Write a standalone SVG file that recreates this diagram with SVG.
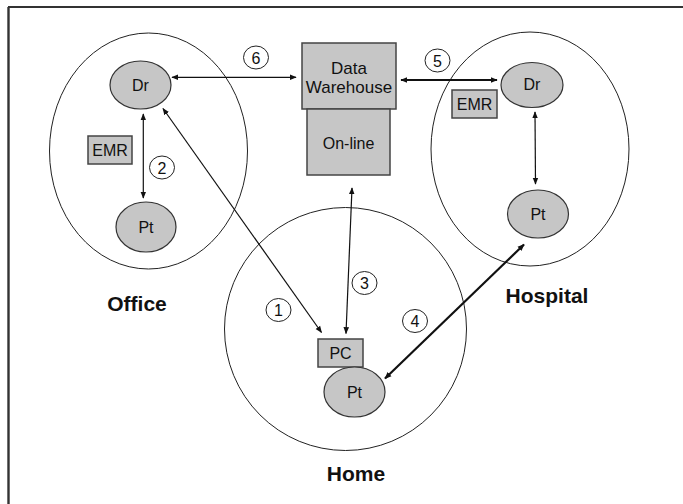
<svg xmlns="http://www.w3.org/2000/svg" width="683" height="504" viewBox="0 0 683 504">
<defs>
<style>
.frame{stroke:#333;fill:none}
.zone{fill:none;stroke:#222;stroke-width:1}
.node{fill:#c6c6c6;stroke:#333;stroke-width:1.2}
.box{fill:#c6c6c6;stroke:#444;stroke-width:1.5}
.t{font-family:"Liberation Sans",Arial,sans-serif;fill:#111;text-anchor:middle;dominant-baseline:central}
.lbl{font-family:"Liberation Sans",Arial,sans-serif;font-weight:bold;font-size:21px;fill:#111;text-anchor:middle;dominant-baseline:central}
.num{fill:#fff;stroke:#222;stroke-width:1}
.c{stroke:#111;stroke-width:1.2;fill:none;marker-start:url(#ah);marker-end:url(#ah)}
.thick{stroke-width:2.2}
</style>
<marker id="ah" viewBox="0 0 10 10" refX="9" refY="5" markerWidth="7" markerHeight="7" markerUnits="userSpaceOnUse" orient="auto-start-reverse">
<path d="M0,1 L10,5 L0,9 Z" fill="#111"/>
</marker>
</defs>
<rect width="683" height="504" fill="#fff"/>
<line class="frame" x1="8" y1="7" x2="683" y2="7" stroke-width="2"/>
<line class="frame" x1="8.5" y1="7" x2="8.5" y2="504" stroke-width="2.4" stroke="#555"/>

<g id="office">
<ellipse class="zone" cx="148.5" cy="151" rx="99" ry="118"/>
<text class="lbl" x="137" y="303">Office</text>
</g>
<g id="hospital">
<ellipse class="zone" cx="530" cy="149" rx="99" ry="117"/>
<text class="lbl" x="547" y="295">Hospital</text>
</g>
<g id="home">
<ellipse class="zone" cx="345.5" cy="329" rx="121" ry="121.5"/>
<text class="lbl" x="356" y="473">Home</text>
</g>

<g id="office-dr">
<ellipse class="node" cx="140.5" cy="85" rx="30.5" ry="24"/>
<text class="t" x="140.5" y="85" font-size="16">Dr</text>
</g>
<g id="office-pt">
<ellipse class="node" cx="146" cy="227" rx="30" ry="25"/>
<text class="t" x="146" y="227" font-size="16">Pt</text>
</g>
<g id="office-emr">
<rect class="box" x="88" y="136" width="44" height="28"/>
<text class="t" x="110" y="150.5" font-size="16">EMR</text>
</g>

<g id="data-warehouse">
<rect class="box" x="302" y="43" width="94" height="66"/>
<text class="t" x="349" y="68" font-size="17">Data</text>
<text class="t" x="349" y="87" font-size="17">Warehouse</text>
</g>
<g id="online">
<rect class="box" x="307" y="109" width="83" height="66"/>
<text class="t" x="348.5" y="143" font-size="16">On-line</text>
</g>

<g id="hospital-dr">
<ellipse class="node" cx="532" cy="85" rx="31" ry="22.5"/>
<text class="t" x="532" y="84" font-size="16">Dr</text>
</g>
<g id="hospital-pt">
<ellipse class="node" cx="538" cy="214" rx="30.5" ry="24"/>
<text class="t" x="538" y="214" font-size="16">Pt</text>
</g>
<g id="hospital-emr">
<rect class="box" x="452" y="90" width="45" height="28"/>
<text class="t" x="474.5" y="104.5" font-size="16">EMR</text>
</g>

<g id="home-pc">
<rect class="box" x="318" y="339" width="45" height="28"/>
<text class="t" x="340.5" y="353.5" font-size="16">PC</text>
</g>
<g id="home-pt">
<ellipse class="node" cx="354.5" cy="392" rx="30.5" ry="25"/>
<text class="t" x="354.5" y="392" font-size="16">Pt</text>
</g>

<g id="connectors">
<line class="c" x1="143.3" y1="114" x2="143.3" y2="198"/>
<line class="c" x1="172" y1="77.3" x2="296" y2="77.3"/>
<line class="c thick" x1="401" y1="80" x2="497" y2="80"/>
<line class="c" x1="535" y1="112" x2="535.5" y2="184"/>
<line class="c" x1="163" y1="108.5" x2="321.5" y2="332.5"/>
<line class="c" x1="352" y1="188" x2="346" y2="333.5"/>
<line class="c thick" x1="385" y1="378.5" x2="524" y2="244.5"/>
</g>

<g id="labels">
<g id="n1"><ellipse class="num" cx="278.5" cy="310" rx="12.5" ry="11.5"/><text class="t" x="278.5" y="310.5" font-size="16">1</text></g>
<g id="n2"><ellipse class="num" cx="162" cy="167.5" rx="12.5" ry="11.5"/><text class="t" x="162" y="168" font-size="16">2</text></g>
<g id="n3"><ellipse class="num" cx="364.5" cy="283" rx="12.5" ry="11.5"/><text class="t" x="364.5" y="283.5" font-size="16">3</text></g>
<g id="n4"><ellipse class="num" cx="415" cy="321" rx="12.5" ry="11.5"/><text class="t" x="415" y="321.5" font-size="16">4</text></g>
<g id="n5"><ellipse class="num" cx="437.5" cy="60.5" rx="12.5" ry="11.5"/><text class="t" x="437.5" y="61" font-size="16">5</text></g>
<g id="n6"><ellipse class="num" cx="256" cy="57.5" rx="12.5" ry="11.5"/><text class="t" x="256" y="58" font-size="16">6</text></g>
</g>
</svg>
